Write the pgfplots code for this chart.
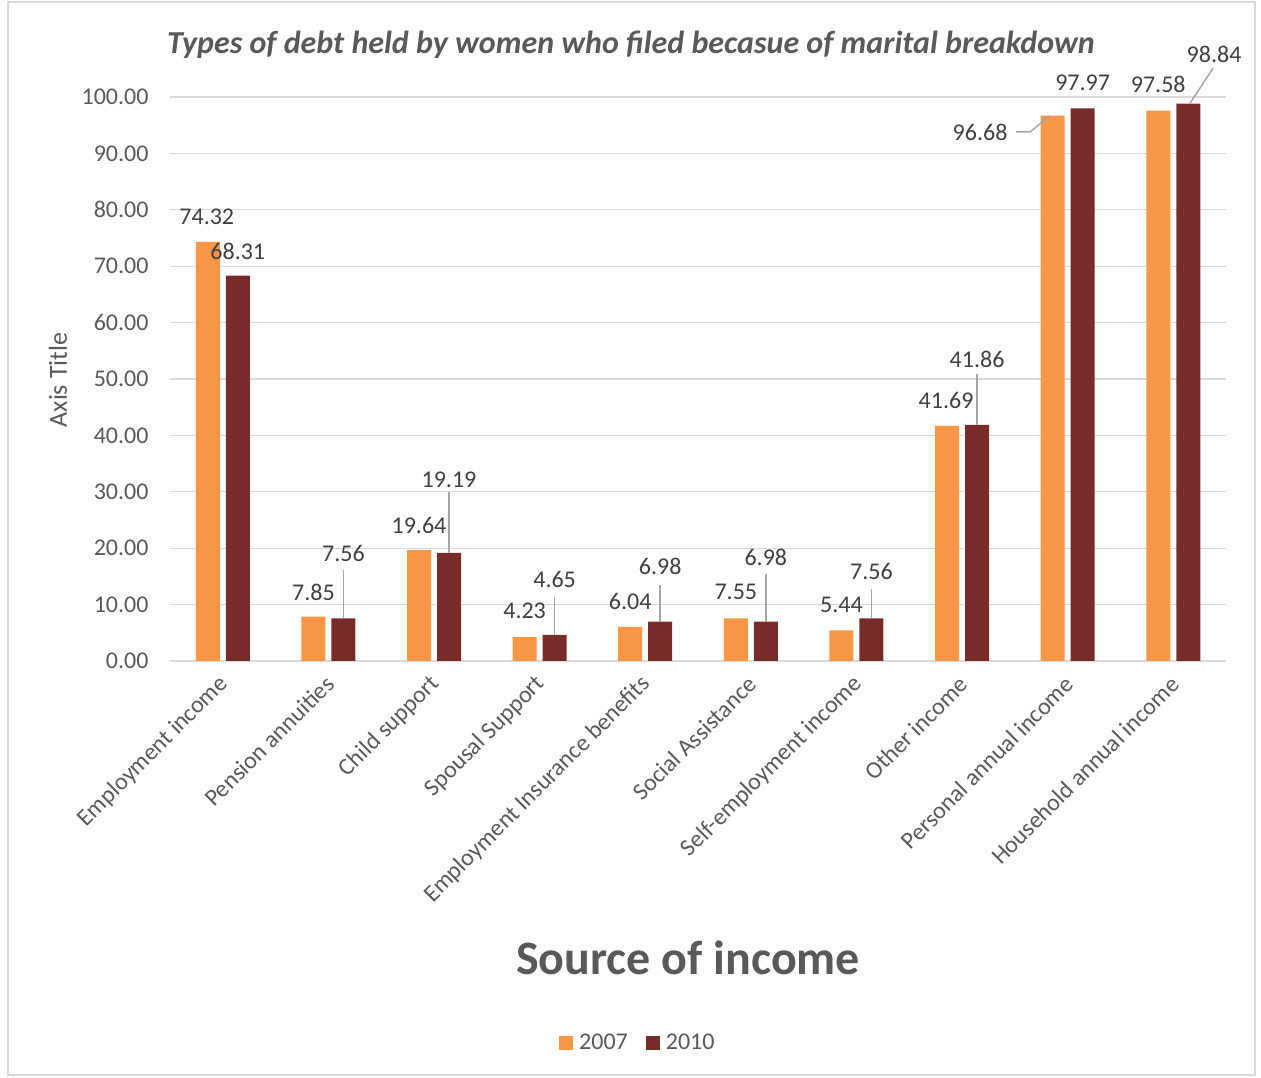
\documentclass[border=0pt]{standalone}
\usepackage{fontspec}
\setmainfont{Carlito}
\usepackage{pgfplots}
\pgfplotsset{compat=1.18}
\definecolor{c07}{HTML}{F79646}
\definecolor{c10}{HTML}{772C2A}
\definecolor{txt}{HTML}{595959}
\definecolor{dlab}{HTML}{404040}
\definecolor{gridc}{HTML}{D9D9D9}
\definecolor{lead}{HTML}{A6A6A6}
\newcommand{\fs}[1]{\fontsize{#1}{#1}\selectfont}
\newcommand{\lab}[4]{\node[font=\fs{24}, text=dlab, inner sep=0pt] at ([xshift=#2pt]axis cs:#1,#3) {#4};}
\begin{document}
\begin{tikzpicture}[x=1pt,y=1pt]
\useasboundingbox (0,0) rectangle (1261,1078);
\draw[gridc, line width=1.5pt] (8,3) rectangle (1255,1076);
\node[font=\fs{32}\bfseries\itshape, text=txt] at (631,1033) {Types of debt held by women who filed becasue of marital breakdown};
\node[font=\fs{48}\bfseries, text=txt] at (688,120) {Source of income};
\node[font=\fs{26}, text=txt, rotate=90] at (58,698) {Axis Title};
\begin{axis}[
  at={(170pt,417pt)}, anchor=south west,
  scale only axis, width=1056pt, height=564pt,
  xmin=-0.5, xmax=9.5, ymin=0, ymax=100,
  ybar, bar width=24pt,
  xtick={0,...,9},
  xticklabels={Employment income, Pension annuities, Child support, Spousal Support, Employment Insurance  benefits, Social Assistance, Self-employment income, Other income, Personal annual income, Household annual income},
  ytick={0,10,...,100},
  ymajorgrids, grid style={gridc, line width=1.3pt},
  axis line style={draw=none},
  major tick length=0pt,
  yticklabel style={font=\fs{24}, text=txt, xshift=-18pt, /pgf/number format/.cd, fixed, fixed zerofill, precision=2, assume math mode=true},
  xticklabel style={font=\fs{24}, text=txt, xshift=4pt, yshift=-17pt, rotate=45, anchor=east},
  clip=false,
  legend entries={2007,2010},
  legend columns=2,
  legend style={at={(0.443,-0.677)}, anchor=center, draw=none, fill=none, font=\fs{24}, text=txt,
    /tikz/every odd column/.append style={column sep=4pt},
    /tikz/every even column/.append style={column sep=16pt}},
  legend image code/.code={\fill[#1] (-3pt,-7pt) rectangle (11pt,7pt);},
]
\addplot[fill=c07, draw=none, bar shift=-15pt] coordinates {(0,74.32) (1,7.85) (2,19.64) (3,4.23) (4,6.04) (5,7.55) (6,5.44) (7,41.69) (8,96.68) (9,97.58)};
\addplot[fill=c10, draw=none, bar shift=15pt] coordinates {(0,68.31) (1,7.56) (2,19.19) (3,4.65) (4,6.98) (5,6.98) (6,7.56) (7,41.86) (8,97.97) (9,98.84)};
% leader lines
\draw[lead, line width=1.5pt] ([xshift=15pt]axis cs:1,16.1) -- ([xshift=15pt]axis cs:1,7.56);
\draw[lead, line width=1.5pt] ([xshift=15pt]axis cs:2,30.0) -- ([xshift=15pt]axis cs:2,19.19);
\draw[lead, line width=1.5pt] ([xshift=15pt]axis cs:3,11.4) -- ([xshift=15pt]axis cs:3,4.65);
\draw[lead, line width=1.5pt] ([xshift=15pt]axis cs:4,13.5) -- ([xshift=15pt]axis cs:4,6.98);
\draw[lead, line width=1.5pt] ([xshift=15pt]axis cs:5,15.4) -- ([xshift=15pt]axis cs:5,6.98);
\draw[lead, line width=1.5pt] ([xshift=15pt]axis cs:6,12.8) -- ([xshift=15pt]axis cs:6,7.56);
\draw[lead, line width=1.5pt] ([xshift=15pt]axis cs:7,50.9) -- ([xshift=15pt]axis cs:7,41.86);
\draw[lead, line width=1.5pt] ([xshift=-51.6pt]axis cs:8,93.8) -- ([xshift=-37.6pt]axis cs:8,93.8) -- ([xshift=-17.6pt]axis cs:8,96.68);
\draw[lead, line width=1.5pt] ([xshift=39.8pt]axis cs:9,105.1) -- ([xshift=16.8pt]axis cs:9,98.9);
% labels
\lab{0}{-16}{78.7}{74.32}
\lab{0}{15}{72.7}{68.31}
\lab{1}{-15}{12.2}{7.85}
\lab{1}{15}{19.1}{7.56}
\lab{2}{-15}{24.1}{19.64}
\lab{2}{15}{32.1}{19.19}
\lab{3}{-15}{8.9}{4.23}
\lab{3}{15}{14.4}{4.65}
\lab{4}{-15}{10.6}{6.04}
\lab{4}{15}{16.7}{6.98}
\lab{5}{-15}{12.2}{7.55}
\lab{5}{15}{18.4}{6.98}
\lab{6}{-15}{9.9}{5.44}
\lab{6}{15}{15.8}{7.56}
\lab{7}{-16}{46.1}{41.69}
\lab{7}{15}{53.4}{41.86}
\lab{8}{-87.6}{93.8}{96.68}
\lab{8}{15}{102.5}{97.97}
\lab{9}{-15}{102.2}{97.58}
\lab{9}{40.8}{107.6}{98.84}
\end{axis}
\end{tikzpicture}
\end{document}
